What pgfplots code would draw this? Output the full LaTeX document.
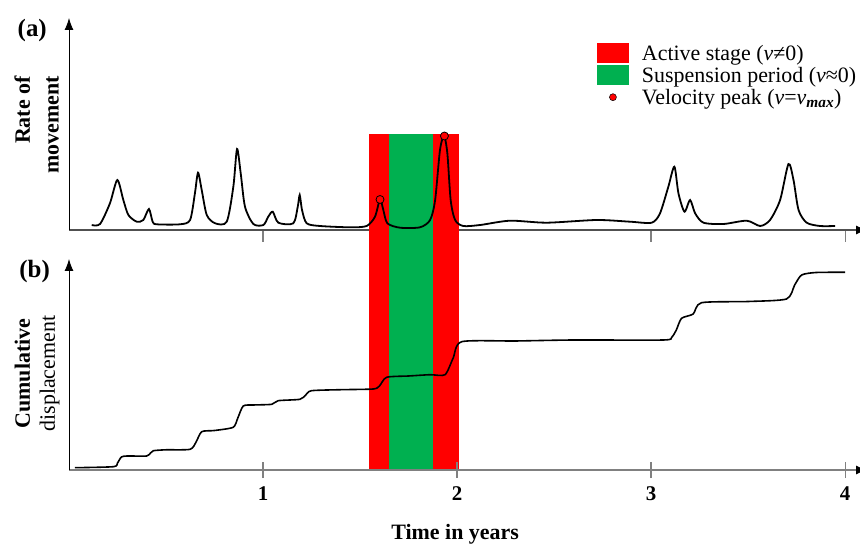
\documentclass[border=0pt]{standalone}
\usepackage{pgfplots}
\pgfplotsset{compat=1.18}
\usepackage{fontspec}
\setmainfont{Liberation Serif}
\usetikzlibrary{arrows.meta}

\definecolor{actred}{RGB}{255,0,0}
\definecolor{susgreen}{RGB}{0,176,80}
\definecolor{tickgray}{RGB}{128,128,128}
\definecolor{darkaxis}{RGB}{80,80,80}

\pgfplotsset{
  panel/.style={
    scale only axis, width=799bp,
    xmin=0, xmax=4.118, ymin=0,
    enlargelimits=false,
    axis x line=bottom, axis y line=left,
    y axis line style={draw=black, line width=0.9bp, -{Latex[color=black,length=12bp,width=9bp]}},
    ytick=\empty, xtick={1,2,3,4},
    major tick style={draw=tickgray, line width=1.2bp},
    clip=false,
  }
}

\begin{document}
\begin{tikzpicture}
\path[use as bounding box] (0,0) rectangle (860bp,547bp);

% (a) rate of movement
\begin{axis}[panel,
  at={(69bp,317bp)}, anchor=south west,
  height=212bp, ymax=212,
  x axis line style={draw=darkaxis, line width=1.2bp, -{Latex[color=black,length=12bp,width=9bp]}},
  tick align=outside, major tick length=12bp, xticklabels={},
  ylabel={Rate of\\movement},
  ylabel style={at={(rel axis cs:-0.0405,0.495)}, anchor=center, align=right,
    font=\bfseries\fontsize{22}{29}\selectfont},
  legend style={at={(axis cs:2.72,187)}, anchor=north west, draw=none, fill=none,
    inner sep=0pt, row sep=2bp, nodes={inner sep=1bp},
    font=\fontsize{22}{23}\selectfont},
  legend cell align=left,
]
\addplot[fill=actred, draw=none,
  legend image code/.code={\path[draw=none,fill=none] (0bp,-10bp) rectangle (44bp,10bp);
    \fill[actred] (0bp,-10bp) rectangle (32bp,10bp);}]
  coordinates {(1.546,-240) (1.546,96) (1.649,96) (1.649,-240)} -- cycle;
\addlegendentry{Active stage (\textit{v}≠0)}
\addplot[fill=susgreen, draw=none,
  legend image code/.code={\path[draw=none,fill=none] (0bp,-10bp) rectangle (44bp,10bp);
    \fill[susgreen] (0bp,-10bp) rectangle (32bp,10bp);}]
  coordinates {(1.649,-240) (1.649,96) (1.876,96) (1.876,-240)} -- cycle;
\addlegendentry{Suspension period (\textit{v}≈0)}
\addplot[fill=actred, draw=none, forget plot]
  coordinates {(1.876,-240) (1.876,96) (2.010,96) (2.010,-240)} -- cycle;

\addplot[black, line width=1.8bp, smooth, tension=0.45, forget plot] coordinates {
  (0.117,5) (0.160,6) (0.211,26.7) (0.249,50) (0.280,30) (0.306,15) (0.349,8.3)
  (0.383,10) (0.412,21) (0.431,8.3) (0.452,5.7) (0.572,5.7) (0.624,10) (0.649,36.7)
  (0.665,57.3) (0.684,40) (0.710,15) (0.753,6.7) (0.813,8.3) (0.847,43.3) (0.866,81)
  (0.885,56.7) (0.907,23.3) (0.950,6) (1.002,5) (1.027,13.3) (1.050,18.3) (1.079,7.3)
  (1.156,6.7) (1.179,23.3) (1.189,35) (1.201,20) (1.225,6.7) (1.294,4) (1.448,2.7)
  (1.534,4) (1.577,13.3) (1.603,30.7) (1.620,20) (1.641,6.7) (1.706,2.3) (1.809,2.7)
  (1.861,10) (1.887,30) (1.912,80) (1.933,94) (1.950,76.7) (1.967,30) (1.990,10)
  (2.032,4) (2.119,5) (2.273,9.3) (2.462,7.3) (2.720,10) (2.892,8.3) (3.003,7.3)
  (3.046,16.7) (3.089,43.3) (3.120,63.3) (3.141,36.7) (3.172,18.3) (3.201,30)
  (3.227,16.7) (3.270,7.3) (3.373,6) (3.493,9.3) (3.562,4) (3.613,10) (3.665,30)
  (3.708,66) (3.734,50) (3.760,20) (3.802,7.3) (3.871,4) (3.948,4)
};
\addplot[only marks, mark=*, mark size=4bp,
  mark options={fill=actred, draw=black, line width=0.8bp},
  legend image code/.code={\path[draw=none,fill=none] (0bp,-10bp) rectangle (44bp,10bp);
    \draw[black, line width=0.5bp, fill=actred] (16bp,0bp) circle (3.5bp);}]
  coordinates {(1.603,30.5) (1.935,94)};
\addlegendentry{Velocity peak (\textit{v}=\textit{v}\textsubscript{\textbf{\textit{max}}})}

\node[font=\bfseries\fontsize{25}{25}\selectfont] at (rel axis cs:-0.046,0.943) {(a)};
\end{axis}

% (b) cumulative displacement
\begin{axis}[panel,
  at={(69bp,77bp)}, anchor=south west,
  height=211bp, ymax=211,
  x axis line style={draw=tickgray, line width=1.2bp, -{Latex[color=black,length=12bp,width=9bp]}},
  tick align=center, major tick length=16bp,
  xticklabels={\textbf{1},\textbf{2},\textbf{3},\textbf{4}},
  xticklabel style={font=\fontsize{21}{21}\selectfont, yshift=-5bp},
  xlabel={Time in years},
  xlabel style={at={(axis cs:1.99,-64)}, anchor=center,
    font=\bfseries\fontsize{22}{22}\selectfont},
  ylabel={\textbf{Cumulative}\\displacement},
  ylabel style={at={(rel axis cs:-0.04,0.457)}, anchor=center, align=center,
    font=\fontsize{22}{25}\selectfont},
]
\addplot[black, line width=1.6bp, smooth, tension=0.4] coordinates {
  (0.03,2.3) (0.229,3.3) (0.25,7) (0.27,13) (0.30,14) (0.40,14) (0.42,17) (0.435,19.3)
  (0.50,20.2) (0.624,20.7) (0.655,28) (0.684,38.3) (0.75,39.5) (0.846,42.7) (0.87,52)
  (0.898,64) (0.95,65) (1.045,65.7) (1.078,69.3) (1.19,70.7) (1.22,75) (1.25,79.3)
  (1.40,80.3) (1.568,81) (1.60,84) (1.637,92.7) (1.75,94) (1.861,95.3) (1.938,95.3)
  (1.98,112) (2.024,128.3) (2.30,129) (2.60,130) (3.063,130) (3.106,132.7) (3.13,140)
  (3.157,151.7) (3.217,156) (3.26,167.3) (3.50,168.5) (3.698,171) (3.74,185)
  (3.776,195) (3.85,197.5) (4.00,197.7)
};
\node[font=\bfseries\fontsize{25}{25}\selectfont] at (rel axis cs:-0.043,0.943) {(b)};
\end{axis}
\end{tikzpicture}
\end{document}
